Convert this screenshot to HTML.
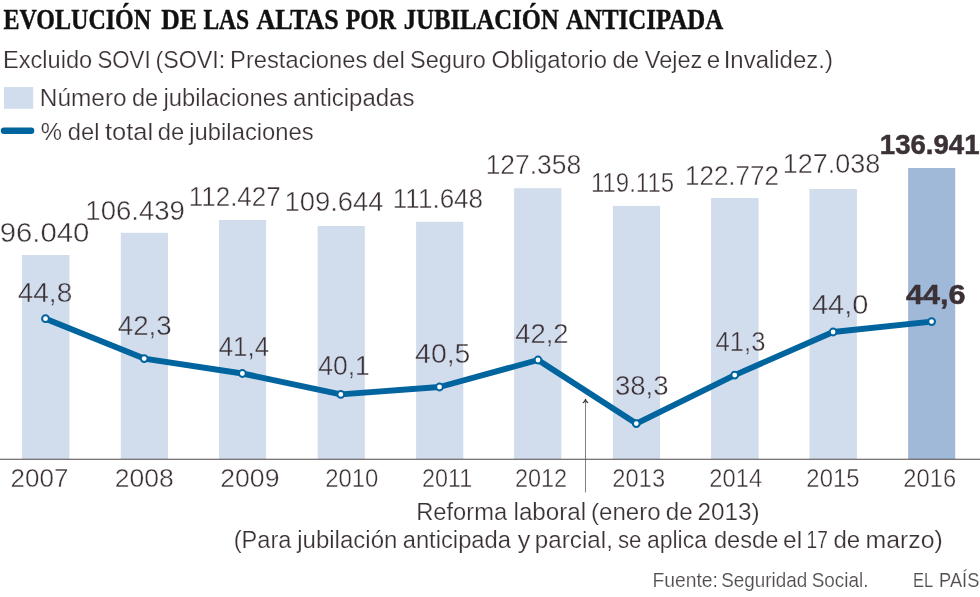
<!DOCTYPE html>
<html lang="es">
<head>
<meta charset="utf-8">
<title>Evolución de las altas por jubilación anticipada</title>
<style>
html,body{margin:0;padding:0;background:#ffffff;}
body{width:980px;height:597px;overflow:hidden;font-family:"Liberation Sans",sans-serif;}
#wrap{position:absolute;left:0;top:0;width:980px;height:597px;will-change:transform;background:#ffffff;}
svg{display:block;position:absolute;left:0;top:0;}
text{white-space:pre;}
</style>
</head>
<body>
<div id="wrap">
<svg width="980" height="597" viewBox="0 0 980 597">
<rect x="0" y="0" width="980" height="597" fill="#ffffff"/>
<defs><clipPath id="cin"><path d="M22.0 255.0H69.5V459.0H22.0Z M120.8 232.8H168.0V459.0H120.8Z M219.0 220.0H266.1V459.0H219.0Z M317.6 226.0H364.8V459.0H317.6Z M416.1 221.8H463.3V459.0H416.1Z M514.1 188.2H561.4V459.0H514.1Z M612.9 205.9H660.0V459.0H612.9Z M711.0 198.0H758.6V459.0H711.0Z M809.5 189.0H856.9V459.0H809.5Z M908.1 168.0H955.2V459.0H908.1Z"/></clipPath><clipPath id="cout"><path clip-rule="evenodd" d="M0 0H980V597H0Z M22.0 255.0H69.5V459.0H22.0Z M120.8 232.8H168.0V459.0H120.8Z M219.0 220.0H266.1V459.0H219.0Z M317.6 226.0H364.8V459.0H317.6Z M416.1 221.8H463.3V459.0H416.1Z M514.1 188.2H561.4V459.0H514.1Z M612.9 205.9H660.0V459.0H612.9Z M711.0 198.0H758.6V459.0H711.0Z M809.5 189.0H856.9V459.0H809.5Z M908.1 168.0H955.2V459.0H908.1Z"/></clipPath></defs>
<rect x="4" y="87" width="29.2" height="21.8" fill="#d1dded"/>
<line x1="4.0" y1="130.7" x2="31.1" y2="130.7" stroke="#00649e" stroke-width="6.4" stroke-linecap="round"/>
<rect x="22.0" y="255.0" width="47.5" height="204.0" fill="#d1dded"/>
<rect x="120.8" y="232.8" width="47.2" height="226.2" fill="#d1dded"/>
<rect x="219.0" y="220.0" width="47.1" height="239.0" fill="#d1dded"/>
<rect x="317.6" y="226.0" width="47.2" height="233.0" fill="#d1dded"/>
<rect x="416.1" y="221.8" width="47.2" height="237.2" fill="#d1dded"/>
<rect x="514.1" y="188.2" width="47.3" height="270.8" fill="#d1dded"/>
<rect x="612.9" y="205.9" width="47.1" height="253.1" fill="#d1dded"/>
<rect x="711.0" y="198.0" width="47.6" height="261.0" fill="#d1dded"/>
<rect x="809.5" y="189.0" width="47.4" height="270.0" fill="#d1dded"/>
<rect x="908.1" y="168.0" width="47.1" height="291.0" fill="#a0b9d8"/>
<rect x="0" y="458.75" width="980" height="1.0" fill="#4f4a4c"/>
<path d="M585.5 399.6 V492.4" stroke="#5a5558" stroke-width="0.75" fill="none"/>
<path d="M583.3 402.6 Q584.9 401.6 585.5 399.3 Q586.1 401.6 587.7 402.6" stroke="#3b3136" stroke-width="1.2" fill="none" stroke-linecap="round" stroke-linejoin="round"/>
<path d="M45.5 318.7 L144.2 358.6 L242.4 373.5 L340.8 394.4 L439.5 387.0 L538.0 360.0 L636.3 423.6 L734.7 375.1 L833.1 332.0 L931.6 321.6" stroke="#00649e" stroke-width="5.9" fill="none" stroke-linejoin="round" stroke-linecap="round"/>
<circle cx="45.5" cy="318.7" r="3.4" fill="#ffffff" stroke="#00649e" stroke-width="2.0"/>
<circle cx="144.2" cy="358.6" r="3.4" fill="#ffffff" stroke="#00649e" stroke-width="2.0"/>
<circle cx="242.4" cy="373.5" r="3.4" fill="#ffffff" stroke="#00649e" stroke-width="2.0"/>
<circle cx="340.8" cy="394.4" r="3.4" fill="#ffffff" stroke="#00649e" stroke-width="2.0"/>
<circle cx="439.5" cy="387.0" r="3.4" fill="#ffffff" stroke="#00649e" stroke-width="2.0"/>
<circle cx="538.0" cy="360.0" r="3.4" fill="#ffffff" stroke="#00649e" stroke-width="2.0"/>
<circle cx="636.3" cy="423.6" r="3.4" fill="#ffffff" stroke="#00649e" stroke-width="2.0"/>
<circle cx="734.7" cy="375.1" r="3.4" fill="#ffffff" stroke="#00649e" stroke-width="2.0"/>
<circle cx="833.1" cy="332.0" r="3.4" fill="#ffffff" stroke="#00649e" stroke-width="2.0"/>
<circle cx="931.6" cy="321.6" r="3.4" fill="#ffffff" stroke="#00649e" stroke-width="2.0"/>
<text stroke="#111111" stroke-width="0.4" transform="translate(3.38 28.75) scale(0.8411 1)" font-size="28.6" font-weight="bold" fill="#111111" font-family="Liberation Serif">EVOLUCIÓN</text>
<text stroke="#111111" stroke-width="0.4" transform="translate(161.15 28.75) scale(0.8980 1)" font-size="28.6" font-weight="bold" fill="#111111" font-family="Liberation Serif">DE</text>
<text stroke="#111111" stroke-width="0.4" transform="translate(203.39 28.75) scale(0.8241 1)" font-size="28.6" font-weight="bold" fill="#111111" font-family="Liberation Serif">LAS</text>
<text stroke="#111111" stroke-width="0.4" transform="translate(256.47 28.75) scale(0.9090 1)" font-size="28.6" font-weight="bold" fill="#111111" font-family="Liberation Serif">ALTAS</text>
<text stroke="#111111" stroke-width="0.4" transform="translate(345.68 28.75) scale(0.8333 1)" font-size="28.6" font-weight="bold" fill="#111111" font-family="Liberation Serif">POR</text>
<text stroke="#111111" stroke-width="0.4" transform="translate(403.82 28.75) scale(0.8635 1)" font-size="28.6" font-weight="bold" fill="#111111" font-family="Liberation Serif">JUBILACIÓN</text>
<text stroke="#111111" stroke-width="0.4" transform="translate(565.98 28.75) scale(0.8710 1)" font-size="28.6" font-weight="bold" fill="#111111" font-family="Liberation Serif">ANTICIPADA</text>
<text stroke="#ffffff" stroke-width="0.22" transform="translate(2.97 68.00) scale(1.0141 1)" font-size="23.3" font-weight="normal" fill="#3b3136" font-family="Liberation Sans">Excluido</text>
<text stroke="#ffffff" stroke-width="0.22" transform="translate(97.44 68.00) scale(0.9562 1)" font-size="23.3" font-weight="normal" fill="#3b3136" font-family="Liberation Sans">SOVI</text>
<text stroke="#ffffff" stroke-width="0.22" transform="translate(155.40 68.00) scale(0.9992 1)" font-size="23.3" font-weight="normal" fill="#3b3136" font-family="Liberation Sans">(SOVI:</text>
<text stroke="#ffffff" stroke-width="0.22" transform="translate(230.06 68.00) scale(1.0194 1)" font-size="23.3" font-weight="normal" fill="#3b3136" font-family="Liberation Sans">Prestaciones</text>
<text stroke="#ffffff" stroke-width="0.22" transform="translate(372.56 68.00) scale(1.0351 1)" font-size="23.3" font-weight="normal" fill="#3b3136" font-family="Liberation Sans">del</text>
<text stroke="#ffffff" stroke-width="0.22" transform="translate(410.09 68.00) scale(1.0089 1)" font-size="23.3" font-weight="normal" fill="#3b3136" font-family="Liberation Sans">Seguro</text>
<text stroke="#ffffff" stroke-width="0.22" transform="translate(491.58 68.00) scale(1.0239 1)" font-size="23.3" font-weight="normal" fill="#3b3136" font-family="Liberation Sans">Obligatorio</text>
<text stroke="#ffffff" stroke-width="0.22" transform="translate(612.58 68.00) scale(1.0232 1)" font-size="23.3" font-weight="normal" fill="#3b3136" font-family="Liberation Sans">de</text>
<text stroke="#ffffff" stroke-width="0.22" transform="translate(644.75 68.00) scale(1.0108 1)" font-size="23.3" font-weight="normal" fill="#3b3136" font-family="Liberation Sans">Vejez</text>
<text stroke="#ffffff" stroke-width="0.22" transform="translate(706.86 68.00) scale(1.0364 1)" font-size="23.3" font-weight="normal" fill="#3b3136" font-family="Liberation Sans">e</text>
<text stroke="#ffffff" stroke-width="0.22" transform="translate(723.69 68.00) scale(1.0283 1)" font-size="23.3" font-weight="normal" fill="#3b3136" font-family="Liberation Sans">Invalidez.)</text>
<text stroke="#ffffff" stroke-width="0.22" transform="translate(39.80 105.80) scale(1.0483 1)" font-size="23.3" font-weight="normal" fill="#3b3136" font-family="Liberation Sans">Número</text>
<text stroke="#ffffff" stroke-width="0.22" transform="translate(131.89 105.80) scale(1.0105 1)" font-size="23.3" font-weight="normal" fill="#3b3136" font-family="Liberation Sans">de</text>
<text stroke="#ffffff" stroke-width="0.22" transform="translate(163.41 105.80) scale(1.0219 1)" font-size="23.3" font-weight="normal" fill="#3b3136" font-family="Liberation Sans">jubilaciones</text>
<text stroke="#ffffff" stroke-width="0.22" transform="translate(293.07 105.80) scale(1.0302 1)" font-size="23.3" font-weight="normal" fill="#3b3136" font-family="Liberation Sans">anticipadas</text>
<text stroke="#ffffff" stroke-width="0.22" transform="translate(40.63 139.50) scale(1.0263 1)" font-size="23.3" font-weight="normal" fill="#3b3136" font-family="Liberation Sans">%</text>
<text stroke="#ffffff" stroke-width="0.22" transform="translate(67.78 139.50) scale(1.0175 1)" font-size="23.3" font-weight="normal" fill="#3b3136" font-family="Liberation Sans">del</text>
<text stroke="#ffffff" stroke-width="0.22" transform="translate(104.93 139.50) scale(1.0935 1)" font-size="23.3" font-weight="normal" fill="#3b3136" font-family="Liberation Sans">total</text>
<text stroke="#ffffff" stroke-width="0.22" transform="translate(157.68 139.50) scale(1.0189 1)" font-size="23.3" font-weight="normal" fill="#3b3136" font-family="Liberation Sans">de</text>
<text stroke="#ffffff" stroke-width="0.22" transform="translate(189.31 139.50) scale(1.0227 1)" font-size="23.3" font-weight="normal" fill="#3b3136" font-family="Liberation Sans">jubilaciones</text>
<text stroke="#ffffff" stroke-width="0.42" transform="translate(-0.33 242.00) scale(1.0634 1)" font-size="27.6" font-weight="normal" fill="#3b3136" font-family="Liberation Sans">96.040</text>
<text stroke="#ffffff" stroke-width="0.42" transform="translate(85.30 220.40) scale(0.9990 1)" font-size="27.6" font-weight="normal" fill="#3b3136" font-family="Liberation Sans">106.439</text>
<text stroke="#ffffff" stroke-width="0.42" transform="translate(188.72 206.10) scale(0.9422 1)" font-size="27.6" font-weight="normal" fill="#3b3136" font-family="Liberation Sans">112.427</text>
<text stroke="#ffffff" stroke-width="0.42" transform="translate(284.51 210.80) scale(0.9938 1)" font-size="27.6" font-weight="normal" fill="#3b3136" font-family="Liberation Sans">109.644</text>
<text stroke="#ffffff" stroke-width="0.42" transform="translate(392.81 207.60) scale(0.9438 1)" font-size="27.6" font-weight="normal" fill="#3b3136" font-family="Liberation Sans">111.648</text>
<text stroke="#ffffff" stroke-width="0.42" transform="translate(485.68 174.30) scale(0.9575 1)" font-size="27.6" font-weight="normal" fill="#3b3136" font-family="Liberation Sans">127.358</text>
<text stroke="#ffffff" stroke-width="0.42" transform="translate(590.96 192.20) scale(0.8692 1)" font-size="27.6" font-weight="normal" fill="#3b3136" font-family="Liberation Sans">119.115</text>
<text stroke="#ffffff" stroke-width="0.42" transform="translate(685.02 185.00) scale(0.9413 1)" font-size="27.6" font-weight="normal" fill="#3b3136" font-family="Liberation Sans">122.772</text>
<text stroke="#ffffff" stroke-width="0.42" transform="translate(782.85 173.20) scale(0.9772 1)" font-size="27.6" font-weight="normal" fill="#3b3136" font-family="Liberation Sans">127.038</text>
<text stroke="#3b3136" stroke-width="0.5" transform="translate(879.85 154.10) scale(0.9995 1)" font-size="27.6" font-weight="bold" fill="#3b3136" font-family="Liberation Sans">136.941</text>
<g clip-path="url(#cin)"><text stroke="#d1dded" stroke-width="0.42" transform="translate(17.63 302.00) scale(1.0214 1)" font-size="27.5" font-weight="normal" fill="#3b3136" font-family="Liberation Sans">44,8</text></g><g clip-path="url(#cout)"><text stroke="#ffffff" stroke-width="0.42" transform="translate(17.63 302.00) scale(1.0214 1)" font-size="27.5" font-weight="normal" fill="#3b3136" font-family="Liberation Sans">44,8</text></g>
<g clip-path="url(#cin)"><text stroke="#d1dded" stroke-width="0.42" transform="translate(117.74 334.50) scale(1.0078 1)" font-size="27.5" font-weight="normal" fill="#3b3136" font-family="Liberation Sans">42,3</text></g><g clip-path="url(#cout)"><text stroke="#ffffff" stroke-width="0.42" transform="translate(117.74 334.50) scale(1.0078 1)" font-size="27.5" font-weight="normal" fill="#3b3136" font-family="Liberation Sans">42,3</text></g>
<g clip-path="url(#cin)"><text stroke="#d1dded" stroke-width="0.42" transform="translate(218.69 355.70) scale(0.9423 1)" font-size="27.5" font-weight="normal" fill="#3b3136" font-family="Liberation Sans">41,4</text></g><g clip-path="url(#cout)"><text stroke="#ffffff" stroke-width="0.42" transform="translate(218.69 355.70) scale(0.9423 1)" font-size="27.5" font-weight="normal" fill="#3b3136" font-family="Liberation Sans">41,4</text></g>
<g clip-path="url(#cin)"><text stroke="#d1dded" stroke-width="0.42" transform="translate(318.28 374.70) scale(0.9631 1)" font-size="27.5" font-weight="normal" fill="#3b3136" font-family="Liberation Sans">40,1</text></g><g clip-path="url(#cout)"><text stroke="#ffffff" stroke-width="0.42" transform="translate(318.28 374.70) scale(0.9631 1)" font-size="27.5" font-weight="normal" fill="#3b3136" font-family="Liberation Sans">40,1</text></g>
<g clip-path="url(#cin)"><text stroke="#d1dded" stroke-width="0.42" transform="translate(415.12 362.90) scale(1.0338 1)" font-size="27.5" font-weight="normal" fill="#3b3136" font-family="Liberation Sans">40,5</text></g><g clip-path="url(#cout)"><text stroke="#ffffff" stroke-width="0.42" transform="translate(415.12 362.90) scale(1.0338 1)" font-size="27.5" font-weight="normal" fill="#3b3136" font-family="Liberation Sans">40,5</text></g>
<g clip-path="url(#cin)"><text stroke="#d1dded" stroke-width="0.42" transform="translate(515.15 342.90) scale(0.9981 1)" font-size="27.5" font-weight="normal" fill="#3b3136" font-family="Liberation Sans">42,2</text></g><g clip-path="url(#cout)"><text stroke="#ffffff" stroke-width="0.42" transform="translate(515.15 342.90) scale(0.9981 1)" font-size="27.5" font-weight="normal" fill="#3b3136" font-family="Liberation Sans">42,2</text></g>
<g clip-path="url(#cin)"><text stroke="#d1dded" stroke-width="0.42" transform="translate(614.90 394.70) scale(1.0029 1)" font-size="27.5" font-weight="normal" fill="#3b3136" font-family="Liberation Sans">38,3</text></g><g clip-path="url(#cout)"><text stroke="#ffffff" stroke-width="0.42" transform="translate(614.90 394.70) scale(1.0029 1)" font-size="27.5" font-weight="normal" fill="#3b3136" font-family="Liberation Sans">38,3</text></g>
<g clip-path="url(#cin)"><text stroke="#d1dded" stroke-width="0.42" transform="translate(715.60 351.20) scale(0.9320 1)" font-size="27.5" font-weight="normal" fill="#3b3136" font-family="Liberation Sans">41,3</text></g><g clip-path="url(#cout)"><text stroke="#ffffff" stroke-width="0.42" transform="translate(715.60 351.20) scale(0.9320 1)" font-size="27.5" font-weight="normal" fill="#3b3136" font-family="Liberation Sans">41,3</text></g>
<g clip-path="url(#cin)"><text stroke="#d1dded" stroke-width="0.42" transform="translate(811.91 314.10) scale(1.0551 1)" font-size="27.5" font-weight="normal" fill="#3b3136" font-family="Liberation Sans">44,0</text></g><g clip-path="url(#cout)"><text stroke="#ffffff" stroke-width="0.42" transform="translate(811.91 314.10) scale(1.0551 1)" font-size="27.5" font-weight="normal" fill="#3b3136" font-family="Liberation Sans">44,0</text></g>
<text stroke="#3b3136" stroke-width="0.5" transform="translate(905.93 303.50) scale(1.1333 1)" font-size="27.0" font-weight="bold" fill="#3b3136" font-family="Liberation Sans">44,6</text>
<text stroke="#ffffff" stroke-width="0.42" transform="translate(10.57 486.80) scale(0.9875 1)" font-size="26.3" font-weight="normal" fill="#3b3136" font-family="Liberation Sans">2007</text>
<text stroke="#ffffff" stroke-width="0.42" transform="translate(114.74 486.80) scale(1.0089 1)" font-size="26.3" font-weight="normal" fill="#3b3136" font-family="Liberation Sans">2008</text>
<text stroke="#ffffff" stroke-width="0.42" transform="translate(220.23 486.80) scale(1.0125 1)" font-size="26.3" font-weight="normal" fill="#3b3136" font-family="Liberation Sans">2009</text>
<text stroke="#ffffff" stroke-width="0.42" transform="translate(325.16 486.80) scale(0.9084 1)" font-size="26.3" font-weight="normal" fill="#3b3136" font-family="Liberation Sans">2010</text>
<text stroke="#ffffff" stroke-width="0.42" transform="translate(421.99 486.80) scale(0.8870 1)" font-size="26.3" font-weight="normal" fill="#3b3136" font-family="Liberation Sans">2011</text>
<text stroke="#ffffff" stroke-width="0.42" transform="translate(514.88 486.80) scale(0.8929 1)" font-size="26.3" font-weight="normal" fill="#3b3136" font-family="Liberation Sans">2012</text>
<text stroke="#ffffff" stroke-width="0.42" transform="translate(612.37 486.80) scale(0.9018 1)" font-size="26.3" font-weight="normal" fill="#3b3136" font-family="Liberation Sans">2013</text>
<text stroke="#ffffff" stroke-width="0.42" transform="translate(709.37 486.80) scale(0.9027 1)" font-size="26.3" font-weight="normal" fill="#3b3136" font-family="Liberation Sans">2014</text>
<text stroke="#ffffff" stroke-width="0.42" transform="translate(806.37 486.80) scale(0.9067 1)" font-size="26.3" font-weight="normal" fill="#3b3136" font-family="Liberation Sans">2015</text>
<text stroke="#ffffff" stroke-width="0.42" transform="translate(903.37 486.80) scale(0.9018 1)" font-size="26.3" font-weight="normal" fill="#3b3136" font-family="Liberation Sans">2016</text>
<text stroke="#ffffff" stroke-width="0.22" transform="translate(416.27 520.20) scale(1.0166 1)" font-size="23.3" font-weight="normal" fill="#3b3136" font-family="Liberation Sans">Reforma</text>
<text stroke="#ffffff" stroke-width="0.22" transform="translate(513.54 520.20) scale(1.0382 1)" font-size="23.3" font-weight="normal" fill="#3b3136" font-family="Liberation Sans">laboral</text>
<text stroke="#ffffff" stroke-width="0.22" transform="translate(591.05 520.20) scale(1.0332 1)" font-size="23.3" font-weight="normal" fill="#3b3136" font-family="Liberation Sans">(enero</text>
<text stroke="#ffffff" stroke-width="0.22" transform="translate(665.86 520.20) scale(1.0358 1)" font-size="23.3" font-weight="normal" fill="#3b3136" font-family="Liberation Sans">de</text>
<text stroke="#ffffff" stroke-width="0.22" transform="translate(697.39 520.20) scale(1.0449 1)" font-size="23.3" font-weight="normal" fill="#3b3136" font-family="Liberation Sans">2013)</text>
<text stroke="#ffffff" stroke-width="0.22" transform="translate(233.68 547.70) scale(1.0126 1)" font-size="23.3" font-weight="normal" fill="#3b3136" font-family="Liberation Sans">(Para</text>
<text stroke="#ffffff" stroke-width="0.22" transform="translate(297.22 547.70) scale(1.0317 1)" font-size="23.3" font-weight="normal" fill="#3b3136" font-family="Liberation Sans">jubilación</text>
<text stroke="#ffffff" stroke-width="0.22" transform="translate(402.68 547.70) scale(1.0204 1)" font-size="23.3" font-weight="normal" fill="#3b3136" font-family="Liberation Sans">anticipada</text>
<text stroke="#ffffff" stroke-width="0.22" transform="translate(517.63 547.70) scale(1.0756 1)" font-size="23.3" font-weight="normal" fill="#3b3136" font-family="Liberation Sans">y</text>
<text stroke="#ffffff" stroke-width="0.22" transform="translate(534.84 547.70) scale(1.0392 1)" font-size="23.3" font-weight="normal" fill="#3b3136" font-family="Liberation Sans">parcial,</text>
<text stroke="#ffffff" stroke-width="0.22" transform="translate(617.88 547.70) scale(0.9538 1)" font-size="23.3" font-weight="normal" fill="#3b3136" font-family="Liberation Sans">se</text>
<text stroke="#ffffff" stroke-width="0.22" transform="translate(646.91 547.70) scale(0.9867 1)" font-size="23.3" font-weight="normal" fill="#3b3136" font-family="Liberation Sans">aplica</text>
<text stroke="#ffffff" stroke-width="0.22" transform="translate(713.99 547.70) scale(1.0130 1)" font-size="23.3" font-weight="normal" fill="#3b3136" font-family="Liberation Sans">desde</text>
<text stroke="#ffffff" stroke-width="0.22" transform="translate(783.05 547.70) scale(1.0516 1)" font-size="23.3" font-weight="normal" fill="#3b3136" font-family="Liberation Sans">el</text>
<text stroke="#ffffff" stroke-width="0.22" transform="translate(806.56 547.70) scale(0.8217 1)" font-size="23.3" font-weight="normal" fill="#3b3136" font-family="Liberation Sans">17</text>
<text stroke="#ffffff" stroke-width="0.22" transform="translate(833.47 547.70) scale(1.0316 1)" font-size="23.3" font-weight="normal" fill="#3b3136" font-family="Liberation Sans">de</text>
<text stroke="#ffffff" stroke-width="0.22" transform="translate(865.50 547.70) scale(1.0662 1)" font-size="23.3" font-weight="normal" fill="#3b3136" font-family="Liberation Sans">marzo)</text>
<text stroke="#ffffff" stroke-width="0.15" transform="translate(652.52 586.90) scale(0.9896 1)" font-size="19.5" font-weight="normal" fill="#524d50" font-family="Liberation Sans">Fuente:</text>
<text stroke="#ffffff" stroke-width="0.15" transform="translate(721.23 586.90) scale(0.9683 1)" font-size="19.5" font-weight="normal" fill="#524d50" font-family="Liberation Sans">Seguridad</text>
<text stroke="#ffffff" stroke-width="0.15" transform="translate(811.73 586.90) scale(0.9704 1)" font-size="19.5" font-weight="normal" fill="#524d50" font-family="Liberation Sans">Social.</text>
<text stroke="#ffffff" stroke-width="0.15" transform="translate(913.02 586.90) scale(0.8506 1)" font-size="19.5" font-weight="normal" fill="#524d50" font-family="Liberation Sans">EL</text>
<text stroke="#ffffff" stroke-width="0.15" transform="translate(939.10 586.90) scale(0.9358 1)" font-size="19.5" font-weight="normal" fill="#524d50" font-family="Liberation Sans">PAÍS</text>
</svg>
</div>
</body>
</html>
